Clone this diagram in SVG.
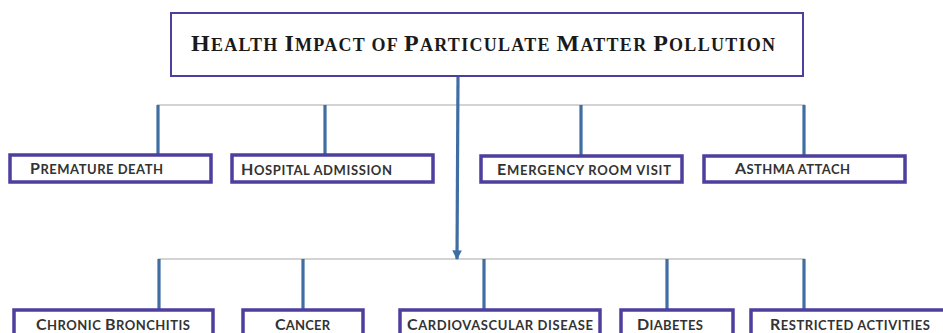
<svg xmlns="http://www.w3.org/2000/svg" width="943" height="333" viewBox="0 0 943 333">
<style>
.bg{fill:#ffffff}
.box{fill:#ffffff;stroke:#4e3f9e;stroke-width:3.5}
.title{fill:#ffffff;stroke:#4e3f9e;stroke-width:2}
.tt{font-family:"Liberation Serif",serif;font-weight:bold;font-size:18px;fill:#1a1a1a}
.tt .c{font-size:24px}
.lb{font-family:Lato,"Liberation Sans",sans-serif;font-weight:bold;font-size:13px;fill:#333333}
.lb .c{font-size:16px}
.h{stroke:#a8a8a8;stroke-width:1.2;fill:none}
.v{stroke:#3f6ea3;stroke-width:3.2;fill:none}
</style>
<defs>
<marker id="ah" viewBox="0 0 10 10" refX="9" refY="5" markerWidth="3" markerHeight="3" orient="auto">
<path d="M0,0 L10,5 L0,10 z" fill="#3f6ea3"/>
</marker>
</defs>
<rect class="bg" x="0" y="0" width="943" height="333"/>
<g id="connectors">
<line class="h" x1="157" y1="105" x2="805" y2="105"/>
<line class="h" x1="158" y1="259" x2="805" y2="259"/>
<line class="v" x1="158" y1="105" x2="158" y2="155"/>
<line class="v" x1="325" y1="105" x2="325" y2="155"/>
<line class="v" x1="581" y1="105" x2="581" y2="155"/>
<line class="v" x1="804" y1="105" x2="804" y2="155"/>
<line class="v" x1="458" y1="76" x2="457" y2="259" marker-end="url(#ah)"/>
<line class="v" x1="159" y1="259" x2="159" y2="309"/>
<line class="v" x1="303" y1="259" x2="303" y2="309"/>
<line class="v" x1="484" y1="259" x2="484" y2="309"/>
<line class="v" x1="667" y1="259" x2="667" y2="309"/>
<line class="v" x1="804" y1="259" x2="804" y2="309"/>
</g>
<g id="title">
<rect class="title" x="171" y="13" width="632" height="63"/>
<text class="tt" x="191" y="51" textLength="584" lengthAdjust="spacing"><tspan class="c">H</tspan>EALTH <tspan class="c">I</tspan>MPACT OF <tspan class="c">P</tspan>ARTICULATE <tspan class="c">M</tspan>ATTER <tspan class="c">P</tspan>OLLUTION</text>
</g>
<g id="premature-death">
<rect class="box" x="10" y="155" width="201" height="27"/>
<text class="lb" x="30" y="174" textLength="133" lengthAdjust="spacing"><tspan class="c">P</tspan>REMATURE DEATH</text>
</g>
<g id="hospital-admission">
<rect class="box" x="232" y="155" width="201" height="27"/>
<text class="lb" x="241" y="175" textLength="151" lengthAdjust="spacing"><tspan class="c">H</tspan>OSPITAL ADMISSION</text>
</g>
<g id="emergency-room-visit">
<rect class="box" x="481" y="156" width="201" height="26"/>
<text class="lb" x="497" y="175" textLength="174" lengthAdjust="spacing"><tspan class="c">E</tspan>MERGENCY ROOM VISIT</text>
</g>
<g id="asthma-attach">
<rect class="box" x="704" y="156" width="201" height="26"/>
<text class="lb" x="735" y="174" textLength="115" lengthAdjust="spacing"><tspan class="c">A</tspan>STHMA ATTACH</text>
</g>
<g id="chronic-bronchitis">
<rect class="box" x="14" y="310" width="199" height="36"/>
<text class="lb" x="36" y="330" textLength="154" lengthAdjust="spacing"><tspan class="c">C</tspan>HRONIC <tspan class="c">B</tspan>RONCHITIS</text>
</g>
<g id="cancer">
<rect class="box" x="243" y="310" width="120" height="36"/>
<text class="lb" x="275" y="330" textLength="55" lengthAdjust="spacing"><tspan class="c">C</tspan>ANCER</text>
</g>
<g id="cardiovascular-disease">
<rect class="box" x="400" y="310" width="200" height="36"/>
<text class="lb" x="407" y="330" textLength="186" lengthAdjust="spacing"><tspan class="c">C</tspan>ARDIOVASCULAR DISEASE</text>
</g>
<g id="diabetes">
<rect class="box" x="621" y="310" width="112" height="36"/>
<text class="lb" x="637" y="330" textLength="66" lengthAdjust="spacing"><tspan class="c">D</tspan>IABETES</text>
</g>
<g id="restricted-activities">
<rect class="box" x="751" y="310" width="195" height="36"/>
<text class="lb" x="770" y="330" textLength="160" lengthAdjust="spacing"><tspan class="c">R</tspan>ESTRICTED ACTIVITIES</text>
</g>
</svg>
